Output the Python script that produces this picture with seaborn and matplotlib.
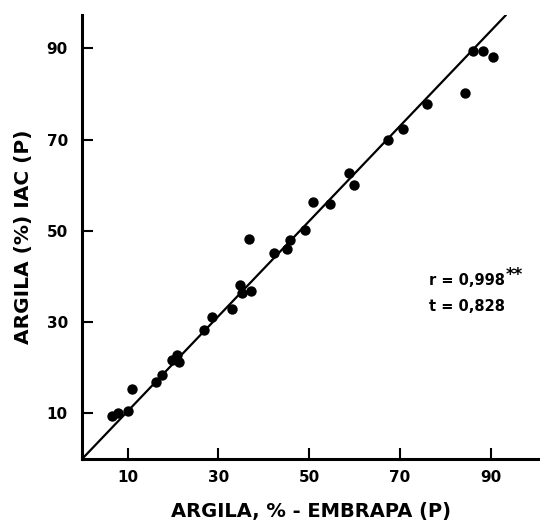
import matplotlib
matplotlib.use("Agg")
import matplotlib.pyplot as plt
import seaborn as sns
import pandas as pd

embrapa = [6.5, 7.8, 10.0, 11.0, 16.2, 17.5, 19.8, 20.9, 21.3, 26.8, 28.6, 33.1,
           34.8, 35.2, 37.3, 36.8, 42.3, 45.2, 45.7, 49.1, 50.8, 54.6, 58.7, 59.8,
           67.5, 70.7, 76.1, 84.4, 86.1, 88.3, 90.5]
iac = [9.3, 10.0, 10.5, 15.3, 16.8, 18.4, 21.7, 22.7, 21.3, 28.3, 31.2, 32.8,
       38.2, 36.4, 36.9, 48.3, 45.1, 46.0, 48.0, 50.2, 56.3, 55.8, 62.7, 60.0,
       69.9, 72.4, 77.9, 80.2, 89.3, 89.3, 88.0]
line_x = [0.0, 93.4]
line_y = [0.0, 97.3]
ticks = [10, 30, 50, 70, 90]

df = pd.DataFrame({"embrapa": embrapa, "iac": iac})
ldf = pd.DataFrame({"x": line_x, "y": line_y})

sns.set_style("ticks")
plt.rcParams['font.family'] = ['DejaVu Sans']
for k in ["text.color", "axes.labelcolor", "xtick.color", "ytick.color", "axes.edgecolor"]:
    plt.rcParams[k] = "black"

fig = plt.figure(figsize=(5.4, 5.22), dpi=100)
ax = fig.add_axes([81.7/540, 1 - 458.9/522, (540 - 81.7)/540, (458.9 - 15)/522])

sns.lineplot(data=ldf, x="x", y="y", ax=ax, color="black", linewidth=1.6)
sns.scatterplot(data=df, x="embrapa", y="iac", ax=ax, color="black", s=56,
                edgecolor="black", linewidth=0, zorder=3)

ax.set_xlim(-0.1, 100.9)
ax.set_ylim(0, 97.3)
ax.set_xticks(ticks)
ax.set_yticks(ticks)
ax.set_xticklabels([str(t) for t in ticks], fontsize=11, fontweight="bold")
ax.set_yticklabels([str(t) for t in ticks], fontsize=11, fontweight="bold")
ax.tick_params(direction="in", length=8, width=1.5, pad=8, colors="black")
ax.tick_params(axis="y", pad=10)

for s in ["top", "right"]:
    ax.spines[s].set_visible(False)
for s in ["left", "bottom"]:
    ax.spines[s].set_linewidth(2.2)
    ax.spines[s].set_color("black")

ax.set_xlabel("ARGILA, % - EMBRAPA (P)", fontsize=14, fontweight="bold", labelpad=12)
ax.set_ylabel("ARGILA (%) IAC (P)", fontsize=14.5, fontweight="bold", labelpad=10)

ax.text(76.4, 39.0, "r = 0,998", fontsize=10.5, fontweight="bold",
        va="center", ha="left")
ax.text(93.3, 40.4, "**", fontsize=12, fontweight="bold",
        va="center", ha="left")
ax.text(76.4, 33.3, "t = 0,828", fontsize=10.5, fontweight="bold",
        va="center", ha="left")

fig.savefig("out.png", dpi=100)
